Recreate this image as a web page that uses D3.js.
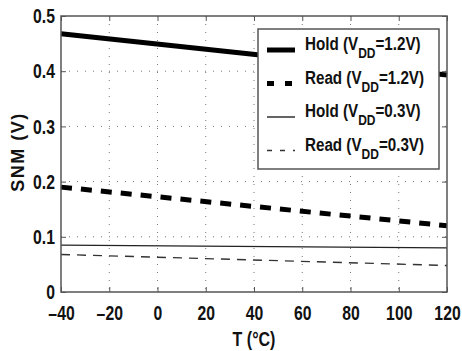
<!DOCTYPE html>
<html>
<head>
<script src="https://d3js.org/d3.v7.min.js"></script>
<style>
  body { margin: 0; background: #fff; }
  text { font-family: "Liberation Sans Narrow", "Arial Narrow", "Liberation Sans", Arial, sans-serif; font-weight: bold; }
</style>
</head>
<body>
<div id="chart"></div>
<script>
// data
const temps = [-40, 120];
const hold12 = [0.468, 0.393];
const read12 = [0.190, 0.120];
const hold03 = [0.085, 0.080];
const read03 = [0.068, 0.048];
const xTicks = [-40, -20, 0, 20, 40, 60, 80, 100, 120];
const yTicks = [0, 0.1, 0.2, 0.3, 0.4, 0.5];
const legendLabels = [["Hold (V", "DD", "=1.2V)"], ["Read (V", "DD", "=1.2V)"], ["Hold (V", "DD", "=0.3V)"], ["Read (V", "DD", "=0.3V)"]];

const W = 462, H = 351;
const margin = { top: 16, right: 15, bottom: 59, left: 61 };
const width = W - margin.left - margin.right;
const height = H - margin.top - margin.bottom;
const squeeze = 0.8; // the original font is a condensed one
const tickSqueeze = 0.75;

const svg = d3.select("#chart").append("svg").attr("width", W).attr("height", H);
const g = svg.append("g").attr("transform", `translate(${margin.left},${margin.top})`);

const x = d3.scaleLinear().domain([-40, 120]).range([0, width]);
const y = d3.scaleLinear().domain([0, 0.5]).range([height, 0]);

const axisColor = "#555";

// grid
g.append("g").selectAll("line").data(xTicks.slice(1, -1)).join("line")
  .attr("x1", d => x(d)).attr("x2", d => x(d)).attr("y1", 0).attr("y2", height)
  .attr("stroke", "#777").attr("stroke-width", 1).attr("stroke-dasharray", "1,7");
g.append("g").selectAll("line").data(yTicks.slice(1, -1)).join("line")
  .attr("y1", d => y(d)).attr("y2", d => y(d)).attr("x1", 0).attr("x2", width)
  .attr("stroke", "#777").attr("stroke-width", 1).attr("stroke-dasharray", "1,7");

// series
const series = [
  { vals: hold12, w: 5, dash: null, color: "#000" },
  { vals: read12, w: 5, dash: "11,9", color: "#000" },
  { vals: hold03, w: 1.4, dash: null, color: "#222" },
  { vals: read03, w: 1.4, dash: "9,7", color: "#333" }
];
const line = d3.line().x(d => x(d[0])).y(d => y(d[1]));
series.forEach(s => {
  g.append("path")
    .datum(temps.map((t, i) => [t, s.vals[i]]))
    .attr("d", line)
    .attr("fill", "none")
    .attr("stroke", s.color)
    .attr("stroke-width", s.w)
    .attr("stroke-dasharray", s.dash);
});

// axes
const fs = "21px";
const xa = g.append("g").attr("transform", `translate(0,${height})`)
  .call(d3.axisBottom(x).tickValues(xTicks).tickSizeInner(-5).tickSizeOuter(0).tickPadding(13)
    .tickFormat(d => d < 0 ? "\u2013" + Math.abs(d) : d));
const ya = g.append("g")
  .call(d3.axisLeft(y).tickValues(yTicks).tickSizeInner(-5).tickSizeOuter(0).tickPadding(6)
    .tickFormat(d => d === 0 ? "0" : d3.format(".1f")(d)));
[xa, ya].forEach(a => {
  a.select(".domain").remove();
  a.selectAll("line").attr("stroke", axisColor);
  a.selectAll("text").attr("fill", "#111").style("font-size", fs);
});
// top and right ticks
g.append("g").call(d3.axisTop(x).tickValues(xTicks).tickSizeInner(-5).tickSizeOuter(0).tickFormat(""))
  .call(a => { a.select(".domain").remove(); a.selectAll("line").attr("stroke", axisColor); });
g.append("g").attr("transform", `translate(${width},0)`)
  .call(d3.axisRight(y).tickValues(yTicks).tickSizeInner(-5).tickSizeOuter(0).tickFormat(""))
  .call(a => { a.select(".domain").remove(); a.selectAll("line").attr("stroke", axisColor); });

g.append("rect").attr("width", width).attr("height", height)
  .attr("fill", "none").attr("stroke", axisColor).attr("stroke-width", 1.5);

// squeeze tick labels around their own anchor
svg.selectAll(".tick text").each(function () {
  const t = d3.select(this);
  const x0 = +(t.attr("x") || 0);
  t.attr("x", x0 / tickSqueeze).attr("transform", `scale(${tickSqueeze},1)`);
});

// legend
const lg = svg.append("g").attr("transform", "translate(258,29)");
lg.append("rect").attr("width", 181).attr("height", 140)
  .attr("fill", "#fff").attr("stroke", axisColor).attr("stroke-width", 1.5);
legendLabels.forEach((lab, i) => {
  const cy = 21 + i * 33.5;
  const s = series[i];
  lg.append("line").attr("x1", 9).attr("x2", 37).attr("y1", cy).attr("y2", cy)
    .attr("stroke", s.color).attr("stroke-width", s.w)
    .attr("stroke-dasharray", s.dash ? (i === 1 ? "7,11" : "5,8") : null);
  const t = lg.append("text")
    .attr("transform", `translate(47,${cy}) scale(${squeeze},1)`)
    .attr("fill", "#111").style("font-size", "19px");
  t.append("tspan").text(lab[0]);
  t.append("tspan").attr("dy", 8).style("font-size", "15px").text(lab[1]);
  t.append("tspan").attr("dy", -8).text(lab[2]);
});

// axis titles
svg.append("text").attr("transform", `translate(${margin.left + width / 2},346) scale(${squeeze},1)`)
  .attr("text-anchor", "middle").style("font-size", "20px").attr("fill", "#111")
  .text("T (\u00B0C)");
svg.append("text").attr("transform", "translate(24,152) rotate(-90)")
  .attr("text-anchor", "middle").style("font-size", "18px").style("letter-spacing", "1.5px")
  .attr("fill", "#111")
  .text("SNM (V)");
</script>
</body>
</html>
